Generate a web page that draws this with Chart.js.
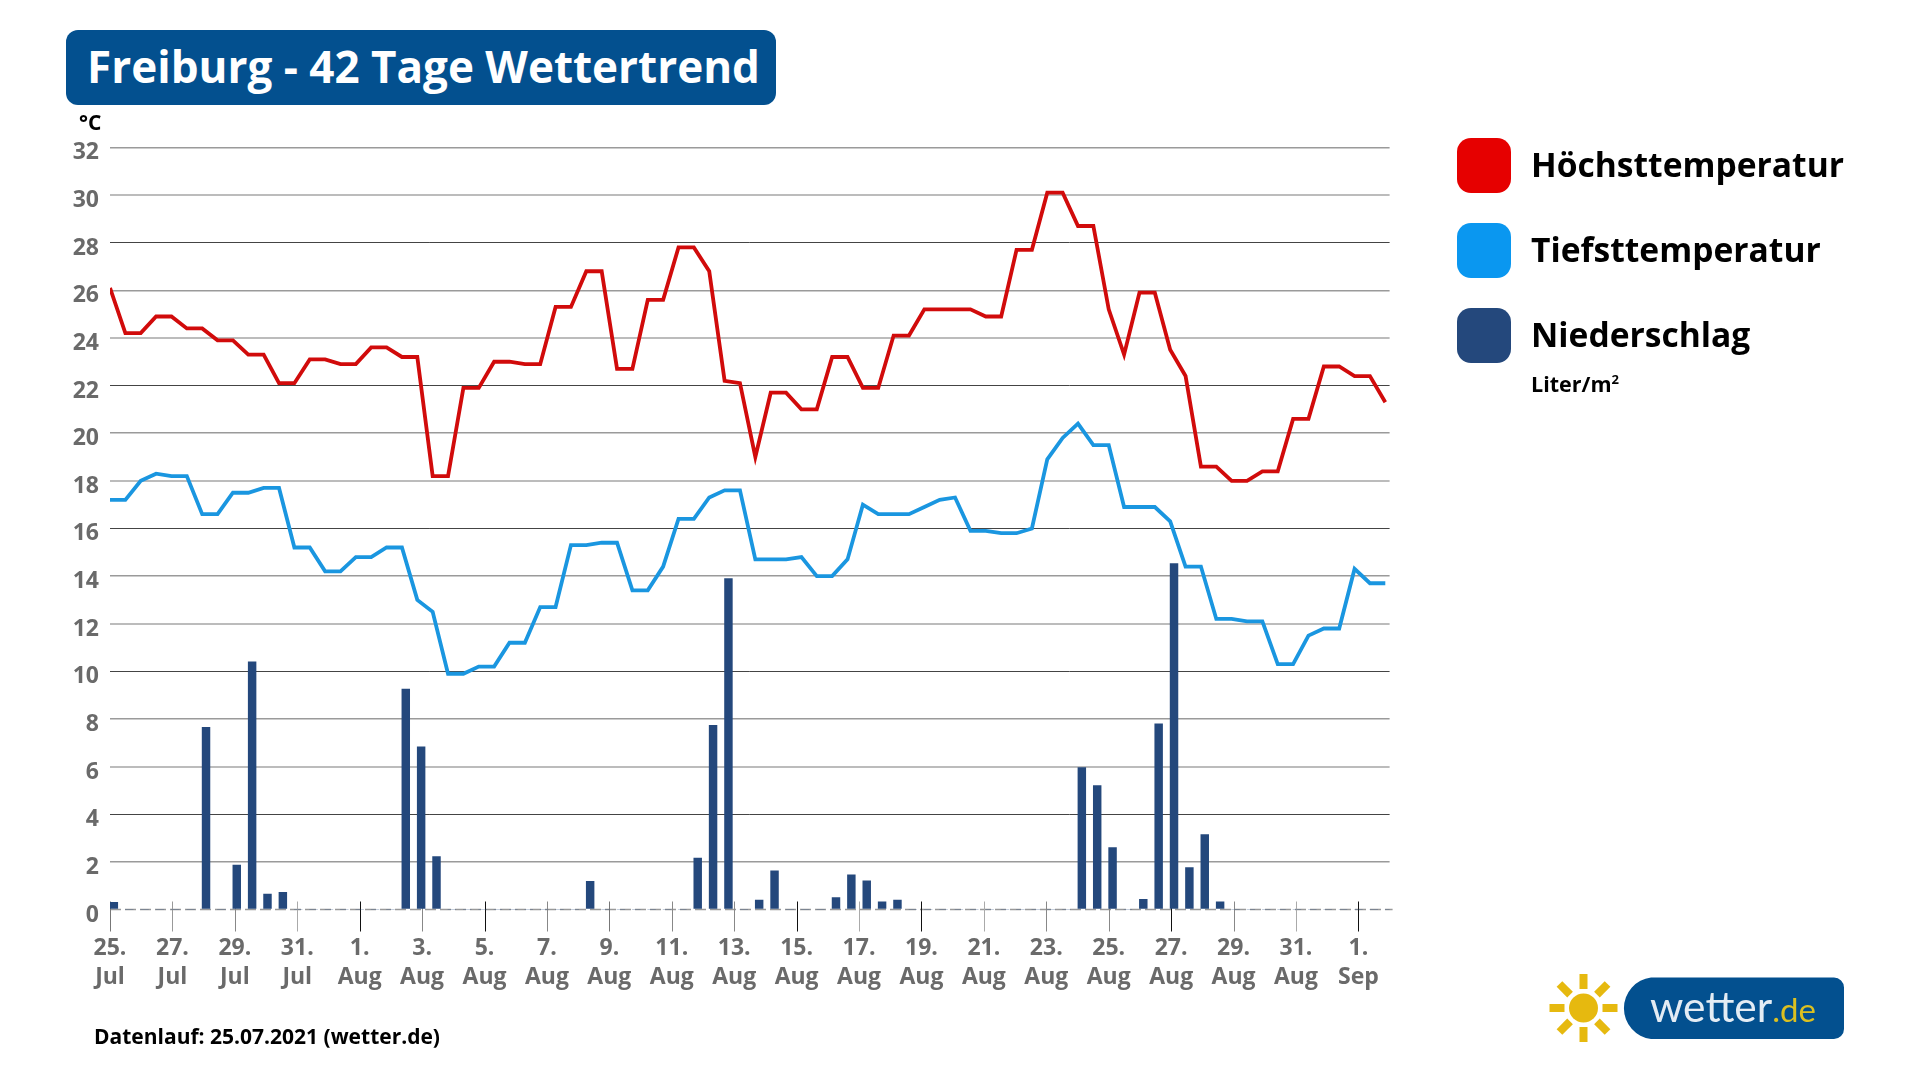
<!DOCTYPE html>
<html lang="de">
<head>
<meta charset="utf-8">
<title>Freiburg - 42 Tage Wettertrend</title>
<style>
  html, body { margin: 0; padding: 0; background: #fff; width: 1918px; height: 1079px; overflow: hidden; font-family: "Open Sans", sans-serif; }
  #myChart { position: absolute; left: 0; top: 0; }
  .abs { position: absolute; white-space: nowrap; }
  #title { left: 66px; top: 30px; width: 705px; padding-left: 5px; height: 75px; line-height: 73px; background: #03508f; border-radius: 12px; color: #fff; font-size: 44px; font-weight: 700; text-align: center; }
  #unit { left: 79px; top: 108px; font-size: 21px; font-weight: 700; color: #000; }
  .swatch { position: absolute; left: 1457px; width: 54px; height: 55px; border-radius: 14px; }
  .legend { left: 1531px; font-size: 33.6px; font-weight: 700; color: #000; line-height: 46px; }
  #liter { left: 1531px; top: 369px; font-size: 21.5px; font-weight: 700; color: #000; }
  #liter sup { font-size: 13px; line-height: 0; }
  #stand { left: 94px; top: 1022px; font-size: 21px; font-weight: 700; color: #000; }
  #logo { position: absolute; left: 1540px; top: 960px; }
</style>
</head>
<body>
<canvas id="myChart" width="1918" height="1079"></canvas>

<div class="abs" id="title">Freiburg - 42 Tage Wettertrend</div>
<div class="abs" id="unit">°C</div>

<div class="swatch" style="top:138px;background:#e60000"></div>
<div class="abs legend" style="top:141px">Höchsttemperatur</div>
<div class="swatch" style="top:223px;background:#0a97f0"></div>
<div class="abs legend" style="top:226px">Tiefsttemperatur</div>
<div class="swatch" style="top:308px;background:#24487c"></div>
<div class="abs legend" style="top:311px">Niederschlag</div>
<div class="abs" id="liter">Liter/m<sup>2</sup></div>

<div class="abs" id="stand">Datenlauf: 25.07.2021 (wetter.de)</div>

<svg id="logo" width="310" height="100" viewBox="1540 960 310 100">
  <g fill="#e6b90f">
    <circle cx="1583.5" cy="1008" r="14.5"/>
    <rect x="1579.5" y="974" width="8" height="15"/>
    <rect x="1579.5" y="974" width="8" height="15" transform="rotate(45 1583.5 1008)"/>
    <rect x="1579.5" y="974" width="8" height="15" transform="rotate(90 1583.5 1008)"/>
    <rect x="1579.5" y="974" width="8" height="15" transform="rotate(135 1583.5 1008)"/>
    <rect x="1579.5" y="974" width="8" height="15" transform="rotate(180 1583.5 1008)"/>
    <rect x="1579.5" y="974" width="8" height="15" transform="rotate(225 1583.5 1008)"/>
    <rect x="1579.5" y="974" width="8" height="15" transform="rotate(270 1583.5 1008)"/>
    <rect x="1579.5" y="974" width="8" height="15" transform="rotate(315 1583.5 1008)"/>
  </g>
  <path d="M1651 977.5 H1834 a10 10 0 0 1 10 10 V1029 a10 10 0 0 1 -10 10 H1651 a31 31 0 0 1 0 -61.5 z" fill="#03508f"/>
  <text x="1650" y="1022" font-family="Lato, sans-serif" font-size="42.5" fill="#e4ecf4">wetter<tspan font-size="33" fill="#dcc020">.de</tspan></text>
</svg>

<script src="https://cdn.jsdelivr.net/npm/chart.js@4/dist/chart.umd.min.js"></script>
<script>
(() => {
  'use strict';

  // Beschriftung der x-Achse
  const dayLabels = ['25.', '27.', '29.', '31.', '1.', '3.', '5.', '7.', '9.', '11.', '13.', '15.', '17.', '19.', '21.', '23.', '25.', '27.', '29.', '31.', '1.'];
  const monthLabels = ['Jul', 'Jul', 'Jul', 'Jul', 'Aug', 'Aug', 'Aug', 'Aug', 'Aug', 'Aug', 'Aug', 'Aug', 'Aug', 'Aug', 'Aug', 'Aug', 'Aug', 'Aug', 'Aug', 'Aug', 'Sep'];

  // Zwei Werte pro Tag, 84 Stueck
  const tempMax = [
    26.1, 24.2, 24.2, 24.9, 24.9, 24.4, 24.4, 23.9, 23.9, 23.3, 23.3, 22.1,
    22.1, 23.1, 23.1, 22.9, 22.9, 23.6, 23.6, 23.2, 23.2, 18.2, 18.2, 21.9,
    21.9, 23.0, 23.0, 22.9, 22.9, 25.3, 25.3, 26.8, 26.8, 22.7, 22.7, 25.6,
    25.6, 27.8, 27.8, 26.8, 22.2, 22.1, 19.0, 21.7, 21.7, 21.0, 21.0, 23.2,
    23.2, 21.9, 21.9, 24.1, 24.1, 25.2, 25.2, 25.2, 25.2, 24.9, 24.9, 27.7,
    27.7, 30.1, 30.1, 28.7, 28.7, 25.2, 23.3, 25.9, 25.9, 23.5, 22.4, 18.6,
    18.6, 18.0, 18.0, 18.4, 18.4, 20.6, 20.6, 22.8, 22.8, 22.4, 22.4, 21.3
  ];
  const tempMin = [
    17.2, 17.2, 18.0, 18.3, 18.2, 18.2, 16.6, 16.6, 17.5, 17.5, 17.7, 17.7,
    15.2, 15.2, 14.2, 14.2, 14.8, 14.8, 15.2, 15.2, 13.0, 12.5, 9.9, 9.9,
    10.2, 10.2, 11.2, 11.2, 12.7, 12.7, 15.3, 15.3, 15.4, 15.4, 13.4, 13.4,
    14.4, 16.4, 16.4, 17.3, 17.6, 17.6, 14.7, 14.7, 14.7, 14.8, 14.0, 14.0,
    14.7, 17.0, 16.6, 16.6, 16.6, 16.9, 17.2, 17.3, 15.9, 15.9, 15.8, 15.8,
    16.0, 18.9, 19.8, 20.4, 19.5, 19.5, 16.9, 16.9, 16.9, 16.3, 14.4, 14.4,
    12.2, 12.2, 12.1, 12.1, 10.3, 10.3, 11.5, 11.8, 11.8, 14.3, 13.7, 13.7
  ];
  const rain = [
    0.3, 0, 0, 0, 0, 0, 7.65, 0, 1.86, 10.4, 0.65, 0.72,
    0, 0, 0, 0, 0, 0, 0, 9.26, 6.83, 2.22, 0, 0,
    0, 0, 0, 0, 0, 0, 0, 1.18, 0, 0, 0, 0,
    0, 0, 2.16, 7.73, 13.9, 0, 0.4, 1.62, 0, 0, 0, 0.5,
    1.46, 1.2, 0.32, 0.4, 0, 0, 0, 0, 0, 0, 0, 0,
    0, 0, 0, 5.96, 5.2, 2.6, 0, 0.43, 7.8, 14.53, 1.76, 3.15,
    0.32, 0, 0, 0, 0, 0, 0, 0, 0, 0, 0, 0
  ];

  // Balken stehen im Original ein Viertel Schritt rechts von den Linienpunkten
  const rainShift = 0.25;

  const toPoints = (values, shift = 0) => values.map((y, i) => ({ x: i + shift, y }));

  // Die Gitterlinien sind im Original abwechselnd grau, hell und dunkel
  const gridColors = ['#9a9a9a', '#bcbcbc', '#444444'];
  const gridWidths = [1.5, 2, 1];
  const gridStep = value => (32 - value) / 2 % 3;

  const tickColors = ['#777', '#999', '#888', '#aaa', '#111', '#888', '#111', '#888', '#777', '#888', '#888', '#111', '#aaa', '#111', '#aaa', '#888', '#888', '#111', '#888', '#aaa', '#111'];

  // Striche an der x-Achse ragen oben ueber die gestrichelte Nulllinie hinaus
  const axisMarks = {
    id: 'axisMarks',
    beforeDatasetsDraw(chart) {
      const { ctx, scales, chartArea } = chart;
      ctx.save();
      ctx.strokeStyle = '#999';
      ctx.lineWidth = 1.5;
      ctx.setLineDash([11, 4]);
      ctx.beginPath();
      ctx.moveTo(chartArea.left, chartArea.bottom);
      ctx.lineTo(chartArea.right + 3, chartArea.bottom);
      ctx.stroke();

      ctx.setLineDash([]);
      ctx.lineWidth = 1;
      scales.x.ticks.forEach((tick, i) => {
        const px = Math.round(scales.x.getPixelForTick(i)) + 0.5;
        ctx.strokeStyle = tickColors[i];
        ctx.beginPath();
        ctx.moveTo(px, chartArea.bottom - 8);
        ctx.lineTo(px, chartArea.bottom + 22);
        ctx.stroke();
      });
      ctx.restore();
    }
  };

  new Chart(document.getElementById('myChart'), {
    type: 'line',
    data: {
      datasets: [
        { label: 'Höchsttemperatur', data: toPoints(tempMax), xAxisID: 'xHalf', borderColor: '#d10b0b', borderWidth: 3.8, pointRadius: 0, tension: 0, order: 1 },
        { label: 'Tiefsttemperatur', data: toPoints(tempMin), xAxisID: 'xHalf', borderColor: '#1a96e0', borderWidth: 3.8, pointRadius: 0, tension: 0, order: 2 },
        { type: 'bar', label: 'Niederschlag', data: toPoints(rain, rainShift), xAxisID: 'xHalf', backgroundColor: '#24487c', barThickness: 7.8, order: 3 }
      ]
    },
    options: {
      responsive: false,
      animation: false,
      layout: { padding: { left: 40, right: 528.4, top: 147.4, bottom: 60 } },
      plugins: {
        legend: { display: false },
        tooltip: { enabled: false },
        title: { display: false }
      },
      scales: {
        // sichtbare Achse: ein Schritt entspricht einer Beschriftung
        x: {
          type: 'linear',
          position: 'bottom',
          min: 0,
          max: 20.5,
          grid: { drawOnChartArea: false, drawTicks: true, tickLength: 22, tickColor: 'transparent' },
          border: { display: false },
          ticks: {
            stepSize: 1,
            includeBounds: false,
            autoSkip: false,
            maxRotation: 0,
            padding: 2,
            color: '#6a6a6a',
            font: { family: '"Open Sans"', size: 23, weight: '700', lineHeight: 1.27 },
            callback: value => [dayLabels[value], monthLabels[value]]
          },
          afterFit: scale => { scale.height = 109.5; }
        },
        // Linien und Balken liegen auf einer eigenen Halbtages-Achse
        // (der Balken-Typ setzt sonst offset: true)
        xHalf: { type: 'linear', display: false, offset: false, grid: { offset: false }, min: 0, max: 83.28 },
        y: {
          min: 0,
          max: 32,
          grid: {
            drawTicks: false,
            color: ctx => ctx.tick.value === 0 ? 'transparent' : gridColors[gridStep(ctx.tick.value)],
            lineWidth: ctx => gridWidths[gridStep(ctx.tick.value)]
          },
          border: { display: false },
          ticks: {
            stepSize: 2,
            padding: 11,
            labelOffset: 5.5,
            color: '#6a6a6a',
            font: { family: '"Open Sans"', size: 23, weight: '700' }
          },
          afterFit: scale => { scale.width = 70; }
        }
      }
    },
    plugins: [axisMarks]
  });
})();
</script>
</body>
</html>
